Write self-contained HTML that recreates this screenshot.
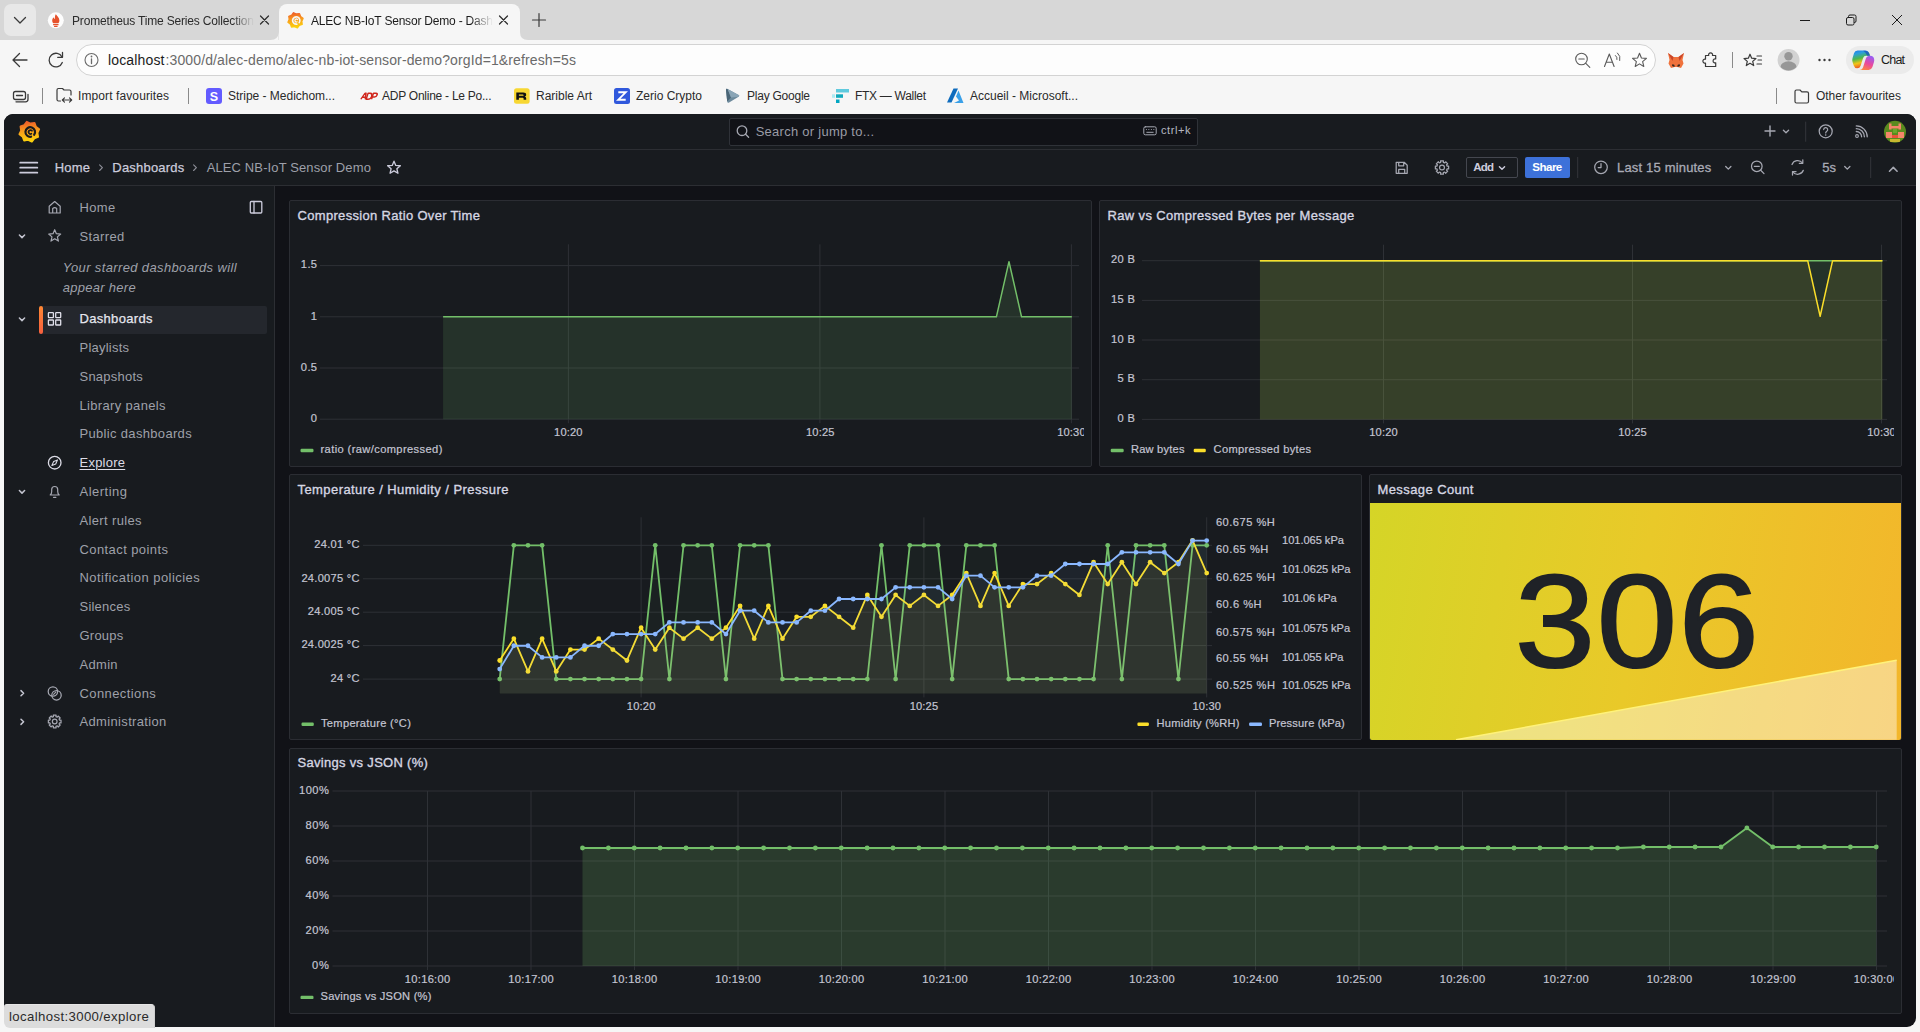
<!DOCTYPE html>
<html><head><meta charset="utf-8"><title>ALEC NB-IoT Sensor Demo - Dashboards - Grafana</title>
<style>
html,body{margin:0;padding:0;}
body{width:1920px;height:1032px;position:relative;overflow:hidden;background:#f6f6f6;font-family:"Liberation Sans",sans-serif;}
.t{position:absolute;white-space:nowrap;display:block;}
.b{position:absolute;box-sizing:border-box;}
svg.g{position:absolute;left:0;top:0;width:1920px;height:1032px;overflow:hidden;}
</style></head><body>
<div class="b" style="left:0.00px;top:0.00px;width:1920.00px;height:40.00px;background:#d7d7d7;"></div>
<div class="b" style="left:4.00px;top:4.00px;width:32.00px;height:32.00px;background:#e8e8e8;border-radius:7px;"></div>
<div class="b" style="left:278.50px;top:4.00px;width:241.50px;height:36.00px;background:#f6f6f6;border-radius:8px 8px 0 0;"></div>
<div class="b" style="left:0.00px;top:40.00px;width:1920.00px;height:74.00px;background:#f6f6f6;"></div>
<div class="b" style="left:76.00px;top:44.00px;width:1580.00px;height:32.00px;background:#fdfdfd;border:1px solid #d3d3d3;border-radius:16px;"></div>
<div class="b" style="left:1846.00px;top:45.50px;width:67.50px;height:28.00px;background:#ebebeb;border-radius:14px;"></div>
<span class="t" style="left:72.00px;top:12px;font-size:12.00px;line-height:18px;color:#2b2b2b;letter-spacing:-0.169px;-webkit-mask-image:linear-gradient(90deg,#000 88%,transparent 100%);">Prometheus Time Series Collection</span>
<span class="t" style="left:311.00px;top:12px;font-size:12.00px;line-height:18px;color:#1b1b1b;letter-spacing:-0.202px;-webkit-mask-image:linear-gradient(90deg,#000 88%,transparent 100%);">ALEC NB-IoT Sensor Demo - Dash</span>
<span class="t" style="left:108.00px;top:50px;font-size:14.00px;line-height:20px;color:#1b1b1b;letter-spacing:0.156px;">localhost</span>
<span class="t" style="left:165.50px;top:50px;font-size:14.00px;line-height:20px;color:#6a6a6a;letter-spacing:0.125px;">:3000/d/alec-demo/alec-nb-iot-sensor-demo?orgId=1&amp;refresh=5s</span>
<span class="t" style="left:1881.00px;top:51px;font-size:12.50px;line-height:18px;color:#1b1b1b;letter-spacing:-0.801px;">Chat</span>
<span class="t" style="left:78.00px;top:87px;font-size:12.00px;line-height:18px;color:#2a2a2a;letter-spacing:0.102px;">Import favourites</span>
<span class="t" style="left:228.00px;top:87px;font-size:12.00px;line-height:18px;color:#2a2a2a;letter-spacing:-0.019px;">Stripe - Medichom...</span>
<span class="t" style="left:382.00px;top:87px;font-size:12.00px;line-height:18px;color:#2a2a2a;letter-spacing:-0.250px;">ADP Online - Le Po...</span>
<span class="t" style="left:536.00px;top:87px;font-size:12.00px;line-height:18px;color:#2a2a2a;">Rarible Art</span>
<span class="t" style="left:636.00px;top:87px;font-size:12.00px;line-height:18px;color:#2a2a2a;">Zerio Crypto</span>
<span class="t" style="left:747.00px;top:87px;font-size:12.00px;line-height:18px;color:#2a2a2a;letter-spacing:-0.237px;">Play Google</span>
<span class="t" style="left:855.00px;top:87px;font-size:12.00px;line-height:18px;color:#2a2a2a;letter-spacing:-0.293px;">FTX — Wallet</span>
<span class="t" style="left:970.00px;top:87px;font-size:12.00px;line-height:18px;color:#2a2a2a;">Accueil - Microsoft...</span>
<span class="t" style="left:1816.00px;top:87px;font-size:12.00px;line-height:18px;color:#2a2a2a;letter-spacing:-0.025px;">Other favourites</span>
<span class="t" style="left:209.83px;top:88px;font-size:12.50px;line-height:18px;color:#fff;font-weight:700;">S</span>
<svg class="g" viewBox="0 0 1920 1032"><path d="M270.5 40 Q278.5 40 278.5 32 L278.5 40Z M528 40 Q520 40 520 32 L520 40Z" fill="#f6f6f6"/><path d="M42.5 88 V104" stroke="#8a8a8a" stroke-width="1"/><path d="M188.5 88 V104" stroke="#8a8a8a" stroke-width="1"/><path d="M1776.5 88 V104" stroke="#8a8a8a" stroke-width="1"/><path d="M1732.5 52 V68" stroke="#8a8a8a" stroke-width="1"/><path d="M14.5 17.5 L20 23 L25.5 17.5" fill="none" stroke="#3a3a3a" stroke-width="1.3" stroke-linecap="round" stroke-linejoin="round"/><circle cx="55.8" cy="20.3" r="8" fill="#fdfdfd"/><path d="M55.8 14.2c1.2 1.8 3.6 3.2 3.6 6.2 0 1.2-.5 2.2-1.2 2.9h-4.8c-.7-.7-1.2-1.700-1.200-2.900 0-1.400 .8-2.300 1.500-3.100 .2 1.100 .8 1.600 1.300 1.800 -.3-1.700 0-3.500 .8-4.900z" fill="#e6522c"/><rect x="53" y="24" width="5.6" height="1.3" rx=".5" fill="#e6522c"/><rect x="54" y="25.8" width="3.6" height="1.2" rx=".5" fill="#e6522c"/><path d="M260.5 16 l8 8 m0 -8 l-8 8" stroke="#2b2b2b" stroke-width="1.2" stroke-linecap="round"/><path d="M499.5 16 l8 8 m0 -8 l-8 8" stroke="#2b2b2b" stroke-width="1.2" stroke-linecap="round"/><path d="M532.5 20 h13 M539 13.5 v13" stroke="#3a3a3a" stroke-width="1.2" stroke-linecap="round"/><path d="M1800 20.5 h10" stroke="#1b1b1b" stroke-width="1"/><rect x="1846.5" y="17.5" width="7.5" height="7.5" rx="1.5" fill="none" stroke="#1b1b1b" stroke-width="1"/><path d="M1848.5 17.5 v-1 q0-1.500 1.500-1.500 h4.5 q1.500 0 1.500 1.500 v4.500 q0 1.500-1.500 1.500 h-0.500" fill="none" stroke="#1b1b1b" stroke-width="1"/><path d="M1892 15 l10 10 m0 -10 l-10 10" stroke="#1b1b1b" stroke-width="1"/><defs><linearGradient id="gl295" x1="0.2" y1="1" x2="0.1" y2="0"><stop offset="0" stop-color="#fcd20c"/><stop offset=".55" stop-color="#f89a1c"/><stop offset="1" stop-color="#ee5a2a"/></linearGradient></defs><polygon points="293.59,12.80 296.39,14.09 299.45,13.64 300.53,16.54 303.00,18.39 301.71,21.19 302.16,24.25 299.26,25.33 297.41,27.80 294.61,26.51 291.55,26.96 290.47,24.06 288.00,22.21 289.29,19.41 288.84,16.35 291.74,15.27" fill="url(#gl295)" stroke="url(#gl295)" stroke-width="1.46" stroke-linejoin="round"/><path d="M296.86 24.11 A3.65 3.65 0 1 1 299.22 22.61" fill="none" stroke="#f6f6f6" stroke-width="1.68" stroke-linecap="round"/><path d="M297.54 19.64 a1.46 1.46 0 1 0 -0.44 2.19" fill="none" stroke="#f6f6f6" stroke-width="1.24" stroke-linecap="round"/><path d="M27 60 H13.5 M19.500 53.500 L13 60 L19.500 66.500" fill="none" stroke="#3a3a3a" stroke-width="1.3" stroke-linecap="round" stroke-linejoin="round"/><path d="M62 57 A6.8 6.8 0 1 0 62.3 62.500" fill="none" stroke="#3a3a3a" stroke-width="1.3" stroke-linecap="round"/><path d="M62.500 52.500 V57.300 H57.700" fill="none" stroke="#3a3a3a" stroke-width="1.3" stroke-linecap="round" stroke-linejoin="round"/><circle cx="91.5" cy="60" r="6.5" fill="none" stroke="#6a6a6a" stroke-width="1.1"/><path d="M91.500 59 v4.500" stroke="#6a6a6a" stroke-width="1.3" stroke-linecap="round"/><circle cx="91.500" cy="56.500" r=".9" fill="#6a6a6a"/><circle cx="1581.5" cy="59" r="5.8" fill="none" stroke="#5a5a5a" stroke-width="1.1"/><path d="M1585.800 63.300 l4 4 M1578.800 59 h5.400" stroke="#5a5a5a" stroke-width="1.1" stroke-linecap="round"/><path d="M1604.500 66.500 l4.800-12.500 l4.800 12.500 M1606.300 62.300 h6" fill="none" stroke="#5a5a5a" stroke-width="1.1" stroke-linecap="round" stroke-linejoin="round"/><path d="M1615.500 55.500 q2 1.500 1.500 4 M1617.500 53 q3.500 3 2.300 7.500" fill="none" stroke="#5a5a5a" stroke-width="1" stroke-linecap="round"/><polygon points="1639.50,53.28 1641.43,57.93 1646.44,58.33 1642.62,61.60 1643.79,66.49 1639.50,63.87 1635.21,66.49 1636.38,61.60 1632.56,58.33 1637.57,57.93" fill="none" stroke="#5a5a5a" stroke-width="1.10" stroke-linejoin="round"/><path d="M1668 53 l5.500 4 h5 l5.500-4 l-1.500 7 l1 3.500 l-2.500 4.500 l-3.500-1 h-3 l-3.500 1 l-2.500-4.500 l1-3.500z" fill="#f0723c"/><path d="M1668 53 l5.500 4 l-1 4z M1684 53 l-5.500 4 l1 4z" fill="#c8452a"/><path d="M1672.500 64 l2 1 v2 l-2.500-1z M1679.500 64 l-2 1 v2 l2.500-1z" fill="#3a2a20"/><path d="M1705.500 55.500 h3.200 a2 2 0 1 1 3.800 0 h3.200 v3.500 a2 2 0 1 0 0 3.800 v3.700 h-10.200 v-3.500 a2 2 0 1 1 0-3.800z" fill="none" stroke="#3a3a3a" stroke-width="1.2" stroke-linejoin="round"/><polygon points="1750.00,54.20 1751.67,58.21 1755.99,58.56 1752.70,61.38 1753.70,65.60 1750.00,63.34 1746.30,65.60 1747.30,61.38 1744.01,58.56 1748.33,58.21" fill="none" stroke="#3a3a3a" stroke-width="1.20" stroke-linejoin="round"/><path d="M1757 56 h4.500 M1758 60 h3.500 M1757 64 h4.500" stroke="#3a3a3a" stroke-width="1.200" stroke-linecap="round"/><circle cx="1788.5" cy="60" r="11" fill="#d2d2d2"/><circle cx="1788.5" cy="56.300" r="4.200" fill="#979797"/><path d="M1780.500 67 a8 5.800 0 0 1 16 0 a11 11 0 0 1-16 0z" fill="#979797"/><circle cx="1819.5" cy="60" r="1.2" fill="#3a3a3a"/><circle cx="1824.5" cy="60" r="1.2" fill="#3a3a3a"/><circle cx="1829.5" cy="60" r="1.2" fill="#3a3a3a"/><defs><linearGradient id="cpl" x1="0" y1="0" x2="0.25" y2="1"><stop offset="0" stop-color="#1e7ae8"/><stop offset=".22" stop-color="#2a9de0"/><stop offset=".5" stop-color="#4cb84c"/><stop offset=".75" stop-color="#f2c416"/><stop offset="1" stop-color="#ee5a24"/></linearGradient><linearGradient id="cpr" x1="0.6" y1="0" x2="0.2" y2="1"><stop offset="0" stop-color="#9a5cf0"/><stop offset=".5" stop-color="#ea489c"/><stop offset="1" stop-color="#ff8a3a"/></linearGradient></defs><g transform="translate(1852.1 49.8)"><path d="M4.500 .8 h8.500 q3.200 0 4.200 3 l.7 2.200 h-3.900 q-2.300 0-3 2.200 l-2.500 7.800 q-.8 2.500-3.400 2.500 q-2.600 0-3.500-2.800 l-1.200-3.700 q-.5-1.800 0-3.600 l1.500-4.900 q.8-2.700 3.600-2.700z" fill="url(#cpl)"/><path d="M18.300 6 q2.800 0 3.600 2.800 q.5 1.700 0 3.300 l-1.600 5.200 q-.9 2.800-3.700 2.800 h-8.800 q2.400-.1 3.100-2.400 l2.700-8.500 q1-3.200 4.700-3.200z" fill="url(#cpr)"/><path d="M11 1 h2 q3.200 0 4.200 3 l.7 2 h-3 q-1.200-3.800-3.900-5z" fill="#1a4fc0" fill-opacity=".75"/></g><rect x="13.500" y="91.500" width="12" height="8" rx="2" fill="none" stroke="#3a3a3a" stroke-width="1.300"/><path d="M16 101.800 h9.500 q2.500 0 2.500-2.500 v-5" fill="none" stroke="#3a3a3a" stroke-width="1.300" stroke-linecap="round"/><path d="M16.500 95.500 h6" stroke="#3a3a3a" stroke-width="1.300" stroke-linecap="round"/><path d="M71 95 v-3.500 q0-1.500-1.500-1.500 h-5.500 l-1.500-1.500 h-4 q-1.500 0-1.500 1.500 v9.500 q0 1.500 1.500 1.500 h2" fill="none" stroke="#3a3a3a" stroke-width="1.200" stroke-linecap="round" stroke-linejoin="round"/><path d="M62.500 100 h9 M69.500 97.800 l2.200 2.200 l-2.200 2.200 M64.500 97.800 l-2.200 2.200 l2.200 2.200" fill="none" stroke="#3a3a3a" stroke-width="1.100" stroke-linecap="round" stroke-linejoin="round"/><rect x="206" y="88" width="16" height="16" rx="3" fill="#635bff"/><g transform="translate(360 92.6) skewX(-18)" fill="none" stroke="#d0271d" stroke-width="1.5" stroke-linejoin="round"><path d="M3 6.600 l2.200-6 h1 l1.300 6 M3.800 4.600 h3"/><path d="M8.300 .7 h2 q2.600 0 2.600 2.900 q0 3-2.600 3 h-2z"/><path d="M13.700 6.600 v-5.900 h2.300 q1.900 0 1.900 1.800 q0 1.800-1.900 1.800 h-2.300"/></g><rect x="514" y="88.300" width="15.600" height="15.400" rx="2.500" fill="#f7d733"/><path d="M516.300 99.800 v-7.200 h7 q2.900 0 2.900 2.300 q0 1.300-1.300 1.700 q1.300 .4 1.300 1.700 v1.500 h-2.600 v-1.200 q0-.8-.9-.8 h-3.800 v2z M518.900 94.500 v1.300 h3.900 q.8 0 .8-.65 q0-.65-.8-.65z" fill="#111" fill-rule="evenodd"/><rect x="614" y="88" width="16" height="16" rx="2.500" fill="#3058dc"/><path d="M618.300 92.300 h7.400 l-7.400 7.400 h7.400" fill="none" stroke="#fff" stroke-width="1.900" stroke-linejoin="miter" stroke-linecap="butt"/><path d="M726 90 q0-1.800 1.600-.9 l11 6 q1.400 .8 0 1.600 l-9.500 5.800 q-1.600 .9-1.900-.9z" fill="#6d8a9c"/><path d="M726 90 q0-1.800 1.600-.9 l3.400 8.400 l-3.800 4.100z" fill="#4a6576"/><path d="M727.600 89.100 l11 6 q1.400 .8 0 1.600 l-7.600 .8z" fill="#8aa5b6"/><rect x="836" y="89" width="13" height="3.500" fill="#5fcade"/><rect x="836" y="94.300" width="7" height="3.500" fill="#11a9bc"/><rect x="832" y="94.300" width="3" height="3.500" fill="#aeeaf2"/><rect x="836" y="99.500" width="3.500" height="3.500" fill="#02a6c2"/><path d="M953.500 88.500 h4.500 l-6.500 14 h-4.500z" fill="#0f6cbd"/><path d="M958.500 90.500 l5 12.500 h-9.500 l5-2.500 l-3-4z" fill="#3aa0e8"/><path d="M1795 101.500 v-10 q0-1.500 1.500-1.500 h3.500 l1.800 1.800 h5.200 q1.500 0 1.500 1.500 v8.200 q0 1.500-1.500 1.500 h-10.500 q-1.500 0-1.500-1.500z" fill="none" stroke="#3a3a3a" stroke-width="1.200" stroke-linejoin="round"/></svg>
<span class="t" style="left:209.83px;top:88px;font-size:12.50px;line-height:18px;color:#fff;font-weight:700;">S</span>
<div class="b" style="left:4px;top:114px;width:1911.5px;height:913px;background:#111217;border-radius:9px;overflow:hidden;">
<div class="b" style="left:0;top:0;width:1912px;height:72px;background:#181b1f;"></div>
<div class="b" style="left:0;top:35px;width:1912px;height:1px;background:#2c2e33;"></div>
<div class="b" style="left:0;top:71px;width:1912px;height:1px;background:#2c2e33;"></div>
<div class="b" style="left:0;top:72px;width:271px;height:842px;background:#181b1f;border-right:1px solid #2c2e33;"></div>
</div>
<div class="b" style="left:729.00px;top:117.50px;width:469.00px;height:28.00px;background:#111217;border:1px solid #2f3238;border-radius:2px;"></div>
<div class="b" style="left:1466.00px;top:157.00px;width:52.00px;height:21.00px;border:1px solid #44474f;border-radius:2px;"></div>
<div class="b" style="left:1525.00px;top:157.00px;width:45.00px;height:21.00px;background:#3d71d9;border-radius:2px;"></div>
<div class="b" style="left:40.00px;top:305.50px;width:227.00px;height:28.00px;background:#24272d;border-radius:2px;"></div>
<div class="b" style="left:38.50px;top:305.50px;width:4.00px;height:28.00px;background:linear-gradient(0deg,#f55f3e,#ff8833);border-radius:2px;"></div>
<div class="b" style="left:289.30px;top:200.40px;width:802.75px;height:266.40px;background:#181b1f;border:1px solid #2b2d33;border-radius:2px;"></div>
<div class="b" style="left:1099.25px;top:200.40px;width:802.75px;height:266.40px;background:#181b1f;border:1px solid #2b2d33;border-radius:2px;"></div>
<div class="b" style="left:289.30px;top:474.00px;width:1072.73px;height:266.40px;background:#181b1f;border:1px solid #2b2d33;border-radius:2px;"></div>
<div class="b" style="left:1369.23px;top:474.00px;width:532.77px;height:266.40px;background:#181b1f;border:1px solid #2b2d33;border-radius:2px;"></div>
<div class="b" style="left:289.30px;top:747.60px;width:1612.70px;height:266.40px;background:#181b1f;border:1px solid #2b2d33;border-radius:2px;"></div>
<div class="b" style="left:1370.0px;top:503.0px;width:531.0px;height:236.8px;background:linear-gradient(100deg,#d5d527 0%,#e9c929 50%,#f3b62b 100%);border-radius:0 0 2px 2px;overflow:hidden;">
<svg style="position:absolute;left:0;top:0" width="531.0" height="236.8" viewBox="0 0 531.0 236.8"><path d="M86 236.8 L526.7 157.2 L526.7 236.8 Z" fill="#ffffff" fill-opacity="0.42"/><path d="M86 236.8 L526.7 157.2" stroke="#fff27a" stroke-width="1.5" fill="none"/></svg>
</div>
<svg class="g" viewBox="0 0 1920 1032"><path d="M320.0 419.2 H1079.0" stroke="#2e3136" stroke-width="1"/><path d="M320.0 368.0 H1079.0" stroke="#2e3136" stroke-width="1"/><path d="M320.0 316.8 H1079.0" stroke="#2e3136" stroke-width="1"/><path d="M320.0 265.6 H1079.0" stroke="#2e3136" stroke-width="1"/><path d="M568.4 244.3 V423.2" stroke="#2e3136" stroke-width="1"/><path d="M819.9 244.3 V423.2" stroke="#2e3136" stroke-width="1"/><path d="M1071.4 244.3 V423.2" stroke="#2e3136" stroke-width="1"/><path d="M443.10 316.80 L996.40 316.80 L1008.98 261.66 L1021.55 316.80 L1071.85 316.80 L1071.85 419.20 L443.10 419.20 Z" fill="#73bf69" fill-opacity="0.150" stroke="none"/><path d="M443.10 316.80 L996.40 316.80 L1008.98 261.66 L1021.55 316.80 L1071.85 316.80" fill="none" stroke="#73bf69" stroke-width="1.50" stroke-linejoin="round" stroke-linecap="butt"/><rect x="300.5" y="448.8" width="13.0" height="3.4" rx="1.2" fill="#73bf69"/><path d="M1142.0 419.4 H1887.0" stroke="#2e3136" stroke-width="1"/><path d="M1142.0 379.7 H1887.0" stroke="#2e3136" stroke-width="1"/><path d="M1142.0 340.0 H1887.0" stroke="#2e3136" stroke-width="1"/><path d="M1142.0 300.4 H1887.0" stroke="#2e3136" stroke-width="1"/><path d="M1142.0 260.7 H1887.0" stroke="#2e3136" stroke-width="1"/><path d="M1383.5 244.7 V423.4" stroke="#2e3136" stroke-width="1"/><path d="M1632.5 244.7 V423.4" stroke="#2e3136" stroke-width="1"/><path d="M1881.5 244.7 V423.4" stroke="#2e3136" stroke-width="1"/><path d="M1259.90 260.70 L1882.40 260.70 L1882.40 419.40 L1259.90 419.40 Z" fill="#73bf69" fill-opacity="0.140" stroke="none"/><path d="M1259.90 260.70 L1882.40 260.70" fill="none" stroke="#73bf69" stroke-width="1.50" stroke-linejoin="round" stroke-linecap="butt"/><path d="M1259.90 260.70 L1807.70 260.70 L1820.15 316.25 L1832.60 260.70 L1882.40 260.70 L1882.40 419.40 L1259.90 419.40 Z" fill="#fade2a" fill-opacity="0.085" stroke="none"/><path d="M1259.90 260.70 L1807.70 260.70 L1820.15 316.25 L1832.60 260.70 L1882.40 260.70" fill="none" stroke="#fade2a" stroke-width="1.50" stroke-linejoin="round" stroke-linecap="butt"/><rect x="1110.7" y="448.8" width="13.0" height="3.4" rx="1.2" fill="#73bf69"/><rect x="1193.7" y="448.8" width="12.1" height="3.4" rx="1.2" fill="#fade2a"/><path d="M363.0 679.1 H1212.0" stroke="#2e3136" stroke-width="1"/><path d="M363.0 645.6 H1212.0" stroke="#2e3136" stroke-width="1"/><path d="M363.0 612.2 H1212.0" stroke="#2e3136" stroke-width="1"/><path d="M363.0 578.8 H1212.0" stroke="#2e3136" stroke-width="1"/><path d="M363.0 545.3 H1212.0" stroke="#2e3136" stroke-width="1"/><path d="M641.1 517.3 V697.4" stroke="#2e3136" stroke-width="1"/><path d="M923.9 517.3 V697.4" stroke="#2e3136" stroke-width="1"/><path d="M1206.7 517.3 V697.4" stroke="#2e3136" stroke-width="1"/><path d="M499.70 679.10 L513.84 545.30 L527.98 545.30 L542.12 545.30 L556.26 679.10 L570.40 679.10 L584.54 679.10 L598.68 679.10 L612.82 679.10 L626.96 679.10 L641.10 679.10 L655.24 545.30 L669.38 679.10 L683.52 545.30 L697.66 545.30 L711.80 545.30 L725.94 679.10 L740.08 545.30 L754.22 545.30 L768.36 545.30 L782.50 679.10 L796.64 679.10 L810.78 679.10 L824.92 679.10 L839.06 679.10 L853.20 679.10 L867.34 679.10 L881.48 545.30 L895.62 679.10 L909.76 545.30 L923.90 545.30 L938.04 545.30 L952.18 679.10 L966.32 545.30 L980.46 545.30 L994.60 545.30 L1008.74 679.10 L1022.88 679.10 L1037.02 679.10 L1051.16 679.10 L1065.30 679.10 L1079.44 679.10 L1093.58 679.10 L1107.72 545.30 L1121.86 679.10 L1136.00 545.30 L1150.14 545.30 L1164.28 545.30 L1178.42 679.10 L1192.56 545.30 L1206.70 545.30 L1206.70 693.40 L499.70 693.40 Z" fill="#73bf69" fill-opacity="0.045" stroke="none"/><path d="M499.70 679.10 L513.84 545.30 L527.98 545.30 L542.12 545.30 L556.26 679.10 L570.40 679.10 L584.54 679.10 L598.68 679.10 L612.82 679.10 L626.96 679.10 L641.10 679.10 L655.24 545.30 L669.38 679.10 L683.52 545.30 L697.66 545.30 L711.80 545.30 L725.94 679.10 L740.08 545.30 L754.22 545.30 L768.36 545.30 L782.50 679.10 L796.64 679.10 L810.78 679.10 L824.92 679.10 L839.06 679.10 L853.20 679.10 L867.34 679.10 L881.48 545.30 L895.62 679.10 L909.76 545.30 L923.90 545.30 L938.04 545.30 L952.18 679.10 L966.32 545.30 L980.46 545.30 L994.60 545.30 L1008.74 679.10 L1022.88 679.10 L1037.02 679.10 L1051.16 679.10 L1065.30 679.10 L1079.44 679.10 L1093.58 679.10 L1107.72 545.30 L1121.86 679.10 L1136.00 545.30 L1150.14 545.30 L1164.28 545.30 L1178.42 679.10 L1192.56 545.30 L1206.70 545.30" fill="none" stroke="#73bf69" stroke-width="1.80" stroke-linejoin="round" stroke-linecap="round"/><circle cx="499.70" cy="679.10" r="2.40" fill="#73bf69"/><circle cx="513.84" cy="545.30" r="2.40" fill="#73bf69"/><circle cx="527.98" cy="545.30" r="2.40" fill="#73bf69"/><circle cx="542.12" cy="545.30" r="2.40" fill="#73bf69"/><circle cx="556.26" cy="679.10" r="2.40" fill="#73bf69"/><circle cx="570.40" cy="679.10" r="2.40" fill="#73bf69"/><circle cx="584.54" cy="679.10" r="2.40" fill="#73bf69"/><circle cx="598.68" cy="679.10" r="2.40" fill="#73bf69"/><circle cx="612.82" cy="679.10" r="2.40" fill="#73bf69"/><circle cx="626.96" cy="679.10" r="2.40" fill="#73bf69"/><circle cx="641.10" cy="679.10" r="2.40" fill="#73bf69"/><circle cx="655.24" cy="545.30" r="2.40" fill="#73bf69"/><circle cx="669.38" cy="679.10" r="2.40" fill="#73bf69"/><circle cx="683.52" cy="545.30" r="2.40" fill="#73bf69"/><circle cx="697.66" cy="545.30" r="2.40" fill="#73bf69"/><circle cx="711.80" cy="545.30" r="2.40" fill="#73bf69"/><circle cx="725.94" cy="679.10" r="2.40" fill="#73bf69"/><circle cx="740.08" cy="545.30" r="2.40" fill="#73bf69"/><circle cx="754.22" cy="545.30" r="2.40" fill="#73bf69"/><circle cx="768.36" cy="545.30" r="2.40" fill="#73bf69"/><circle cx="782.50" cy="679.10" r="2.40" fill="#73bf69"/><circle cx="796.64" cy="679.10" r="2.40" fill="#73bf69"/><circle cx="810.78" cy="679.10" r="2.40" fill="#73bf69"/><circle cx="824.92" cy="679.10" r="2.40" fill="#73bf69"/><circle cx="839.06" cy="679.10" r="2.40" fill="#73bf69"/><circle cx="853.20" cy="679.10" r="2.40" fill="#73bf69"/><circle cx="867.34" cy="679.10" r="2.40" fill="#73bf69"/><circle cx="881.48" cy="545.30" r="2.40" fill="#73bf69"/><circle cx="895.62" cy="679.10" r="2.40" fill="#73bf69"/><circle cx="909.76" cy="545.30" r="2.40" fill="#73bf69"/><circle cx="923.90" cy="545.30" r="2.40" fill="#73bf69"/><circle cx="938.04" cy="545.30" r="2.40" fill="#73bf69"/><circle cx="952.18" cy="679.10" r="2.40" fill="#73bf69"/><circle cx="966.32" cy="545.30" r="2.40" fill="#73bf69"/><circle cx="980.46" cy="545.30" r="2.40" fill="#73bf69"/><circle cx="994.60" cy="545.30" r="2.40" fill="#73bf69"/><circle cx="1008.74" cy="679.10" r="2.40" fill="#73bf69"/><circle cx="1022.88" cy="679.10" r="2.40" fill="#73bf69"/><circle cx="1037.02" cy="679.10" r="2.40" fill="#73bf69"/><circle cx="1051.16" cy="679.10" r="2.40" fill="#73bf69"/><circle cx="1065.30" cy="679.10" r="2.40" fill="#73bf69"/><circle cx="1079.44" cy="679.10" r="2.40" fill="#73bf69"/><circle cx="1093.58" cy="679.10" r="2.40" fill="#73bf69"/><circle cx="1107.72" cy="545.30" r="2.40" fill="#73bf69"/><circle cx="1121.86" cy="679.10" r="2.40" fill="#73bf69"/><circle cx="1136.00" cy="545.30" r="2.40" fill="#73bf69"/><circle cx="1150.14" cy="545.30" r="2.40" fill="#73bf69"/><circle cx="1164.28" cy="545.30" r="2.40" fill="#73bf69"/><circle cx="1178.42" cy="679.10" r="2.40" fill="#73bf69"/><circle cx="1192.56" cy="545.30" r="2.40" fill="#73bf69"/><circle cx="1206.70" cy="545.30" r="2.40" fill="#73bf69"/><path d="M499.70 660.48 L513.84 638.64 L527.98 671.40 L542.12 638.64 L556.26 671.40 L570.40 649.56 L584.54 649.56 L598.68 638.64 L612.82 649.56 L626.96 660.48 L641.10 627.72 L655.24 649.56 L669.38 627.72 L683.52 638.64 L697.66 627.72 L711.80 638.64 L725.94 627.72 L740.08 605.88 L754.22 638.64 L768.36 605.88 L782.50 638.64 L796.64 616.80 L810.78 616.80 L824.92 605.88 L839.06 616.80 L853.20 627.72 L867.34 594.96 L881.48 616.80 L895.62 594.96 L909.76 605.88 L923.90 594.96 L938.04 605.88 L952.18 594.96 L966.32 573.12 L980.46 605.88 L994.60 573.12 L1008.74 605.88 L1022.88 584.04 L1037.02 584.04 L1051.16 573.12 L1065.30 584.04 L1079.44 594.96 L1093.58 562.20 L1107.72 584.04 L1121.86 562.20 L1136.00 584.04 L1150.14 562.20 L1164.28 573.12 L1178.42 562.20 L1192.56 540.36 L1206.70 573.12 L1206.70 693.40 L499.70 693.40 Z" fill="#fade2a" fill-opacity="0.065" stroke="none"/><path d="M499.70 660.48 L513.84 638.64 L527.98 671.40 L542.12 638.64 L556.26 671.40 L570.40 649.56 L584.54 649.56 L598.68 638.64 L612.82 649.56 L626.96 660.48 L641.10 627.72 L655.24 649.56 L669.38 627.72 L683.52 638.64 L697.66 627.72 L711.80 638.64 L725.94 627.72 L740.08 605.88 L754.22 638.64 L768.36 605.88 L782.50 638.64 L796.64 616.80 L810.78 616.80 L824.92 605.88 L839.06 616.80 L853.20 627.72 L867.34 594.96 L881.48 616.80 L895.62 594.96 L909.76 605.88 L923.90 594.96 L938.04 605.88 L952.18 594.96 L966.32 573.12 L980.46 605.88 L994.60 573.12 L1008.74 605.88 L1022.88 584.04 L1037.02 584.04 L1051.16 573.12 L1065.30 584.04 L1079.44 594.96 L1093.58 562.20 L1107.72 584.04 L1121.86 562.20 L1136.00 584.04 L1150.14 562.20 L1164.28 573.12 L1178.42 562.20 L1192.56 540.36 L1206.70 573.12" fill="none" stroke="#fade2a" stroke-width="1.80" stroke-linejoin="round" stroke-linecap="round"/><circle cx="499.70" cy="660.48" r="2.40" fill="#fade2a"/><circle cx="513.84" cy="638.64" r="2.40" fill="#fade2a"/><circle cx="527.98" cy="671.40" r="2.40" fill="#fade2a"/><circle cx="542.12" cy="638.64" r="2.40" fill="#fade2a"/><circle cx="556.26" cy="671.40" r="2.40" fill="#fade2a"/><circle cx="570.40" cy="649.56" r="2.40" fill="#fade2a"/><circle cx="584.54" cy="649.56" r="2.40" fill="#fade2a"/><circle cx="598.68" cy="638.64" r="2.40" fill="#fade2a"/><circle cx="612.82" cy="649.56" r="2.40" fill="#fade2a"/><circle cx="626.96" cy="660.48" r="2.40" fill="#fade2a"/><circle cx="641.10" cy="627.72" r="2.40" fill="#fade2a"/><circle cx="655.24" cy="649.56" r="2.40" fill="#fade2a"/><circle cx="669.38" cy="627.72" r="2.40" fill="#fade2a"/><circle cx="683.52" cy="638.64" r="2.40" fill="#fade2a"/><circle cx="697.66" cy="627.72" r="2.40" fill="#fade2a"/><circle cx="711.80" cy="638.64" r="2.40" fill="#fade2a"/><circle cx="725.94" cy="627.72" r="2.40" fill="#fade2a"/><circle cx="740.08" cy="605.88" r="2.40" fill="#fade2a"/><circle cx="754.22" cy="638.64" r="2.40" fill="#fade2a"/><circle cx="768.36" cy="605.88" r="2.40" fill="#fade2a"/><circle cx="782.50" cy="638.64" r="2.40" fill="#fade2a"/><circle cx="796.64" cy="616.80" r="2.40" fill="#fade2a"/><circle cx="810.78" cy="616.80" r="2.40" fill="#fade2a"/><circle cx="824.92" cy="605.88" r="2.40" fill="#fade2a"/><circle cx="839.06" cy="616.80" r="2.40" fill="#fade2a"/><circle cx="853.20" cy="627.72" r="2.40" fill="#fade2a"/><circle cx="867.34" cy="594.96" r="2.40" fill="#fade2a"/><circle cx="881.48" cy="616.80" r="2.40" fill="#fade2a"/><circle cx="895.62" cy="594.96" r="2.40" fill="#fade2a"/><circle cx="909.76" cy="605.88" r="2.40" fill="#fade2a"/><circle cx="923.90" cy="594.96" r="2.40" fill="#fade2a"/><circle cx="938.04" cy="605.88" r="2.40" fill="#fade2a"/><circle cx="952.18" cy="594.96" r="2.40" fill="#fade2a"/><circle cx="966.32" cy="573.12" r="2.40" fill="#fade2a"/><circle cx="980.46" cy="605.88" r="2.40" fill="#fade2a"/><circle cx="994.60" cy="573.12" r="2.40" fill="#fade2a"/><circle cx="1008.74" cy="605.88" r="2.40" fill="#fade2a"/><circle cx="1022.88" cy="584.04" r="2.40" fill="#fade2a"/><circle cx="1037.02" cy="584.04" r="2.40" fill="#fade2a"/><circle cx="1051.16" cy="573.12" r="2.40" fill="#fade2a"/><circle cx="1065.30" cy="584.04" r="2.40" fill="#fade2a"/><circle cx="1079.44" cy="594.96" r="2.40" fill="#fade2a"/><circle cx="1093.58" cy="562.20" r="2.40" fill="#fade2a"/><circle cx="1107.72" cy="584.04" r="2.40" fill="#fade2a"/><circle cx="1121.86" cy="562.20" r="2.40" fill="#fade2a"/><circle cx="1136.00" cy="584.04" r="2.40" fill="#fade2a"/><circle cx="1150.14" cy="562.20" r="2.40" fill="#fade2a"/><circle cx="1164.28" cy="573.12" r="2.40" fill="#fade2a"/><circle cx="1178.42" cy="562.20" r="2.40" fill="#fade2a"/><circle cx="1192.56" cy="540.36" r="2.40" fill="#fade2a"/><circle cx="1206.70" cy="573.12" r="2.40" fill="#fade2a"/><path d="M499.70 669.10 L513.84 645.74 L527.98 645.74 L542.12 657.42 L556.26 657.42 L570.40 657.42 L584.54 645.74 L598.68 645.74 L612.82 634.06 L626.96 634.06 L641.10 634.06 L655.24 634.06 L669.38 622.38 L683.52 622.38 L697.66 622.38 L711.80 622.38 L725.94 634.06 L740.08 610.70 L754.22 610.70 L768.36 622.38 L782.50 622.38 L796.64 622.38 L810.78 610.70 L824.92 610.70 L839.06 599.02 L853.20 599.02 L867.34 599.02 L881.48 599.02 L895.62 587.34 L909.76 587.34 L923.90 587.34 L938.04 587.34 L952.18 599.02 L966.32 575.66 L980.46 575.66 L994.60 587.34 L1008.74 587.34 L1022.88 587.34 L1037.02 575.66 L1051.16 575.66 L1065.30 563.98 L1079.44 563.98 L1093.58 563.98 L1107.72 563.98 L1121.86 552.30 L1136.00 552.30 L1150.14 552.30 L1164.28 552.30 L1178.42 563.98 L1192.56 540.62 L1206.70 540.62 L1206.70 693.40 L499.70 693.40 Z" fill="#8ab8ff" fill-opacity="0.060" stroke="none"/><path d="M499.70 669.10 L513.84 645.74 L527.98 645.74 L542.12 657.42 L556.26 657.42 L570.40 657.42 L584.54 645.74 L598.68 645.74 L612.82 634.06 L626.96 634.06 L641.10 634.06 L655.24 634.06 L669.38 622.38 L683.52 622.38 L697.66 622.38 L711.80 622.38 L725.94 634.06 L740.08 610.70 L754.22 610.70 L768.36 622.38 L782.50 622.38 L796.64 622.38 L810.78 610.70 L824.92 610.70 L839.06 599.02 L853.20 599.02 L867.34 599.02 L881.48 599.02 L895.62 587.34 L909.76 587.34 L923.90 587.34 L938.04 587.34 L952.18 599.02 L966.32 575.66 L980.46 575.66 L994.60 587.34 L1008.74 587.34 L1022.88 587.34 L1037.02 575.66 L1051.16 575.66 L1065.30 563.98 L1079.44 563.98 L1093.58 563.98 L1107.72 563.98 L1121.86 552.30 L1136.00 552.30 L1150.14 552.30 L1164.28 552.30 L1178.42 563.98 L1192.56 540.62 L1206.70 540.62" fill="none" stroke="#8ab8ff" stroke-width="1.80" stroke-linejoin="round" stroke-linecap="round"/><circle cx="499.70" cy="669.10" r="2.40" fill="#8ab8ff"/><circle cx="513.84" cy="645.74" r="2.40" fill="#8ab8ff"/><circle cx="527.98" cy="645.74" r="2.40" fill="#8ab8ff"/><circle cx="542.12" cy="657.42" r="2.40" fill="#8ab8ff"/><circle cx="556.26" cy="657.42" r="2.40" fill="#8ab8ff"/><circle cx="570.40" cy="657.42" r="2.40" fill="#8ab8ff"/><circle cx="584.54" cy="645.74" r="2.40" fill="#8ab8ff"/><circle cx="598.68" cy="645.74" r="2.40" fill="#8ab8ff"/><circle cx="612.82" cy="634.06" r="2.40" fill="#8ab8ff"/><circle cx="626.96" cy="634.06" r="2.40" fill="#8ab8ff"/><circle cx="641.10" cy="634.06" r="2.40" fill="#8ab8ff"/><circle cx="655.24" cy="634.06" r="2.40" fill="#8ab8ff"/><circle cx="669.38" cy="622.38" r="2.40" fill="#8ab8ff"/><circle cx="683.52" cy="622.38" r="2.40" fill="#8ab8ff"/><circle cx="697.66" cy="622.38" r="2.40" fill="#8ab8ff"/><circle cx="711.80" cy="622.38" r="2.40" fill="#8ab8ff"/><circle cx="725.94" cy="634.06" r="2.40" fill="#8ab8ff"/><circle cx="740.08" cy="610.70" r="2.40" fill="#8ab8ff"/><circle cx="754.22" cy="610.70" r="2.40" fill="#8ab8ff"/><circle cx="768.36" cy="622.38" r="2.40" fill="#8ab8ff"/><circle cx="782.50" cy="622.38" r="2.40" fill="#8ab8ff"/><circle cx="796.64" cy="622.38" r="2.40" fill="#8ab8ff"/><circle cx="810.78" cy="610.70" r="2.40" fill="#8ab8ff"/><circle cx="824.92" cy="610.70" r="2.40" fill="#8ab8ff"/><circle cx="839.06" cy="599.02" r="2.40" fill="#8ab8ff"/><circle cx="853.20" cy="599.02" r="2.40" fill="#8ab8ff"/><circle cx="867.34" cy="599.02" r="2.40" fill="#8ab8ff"/><circle cx="881.48" cy="599.02" r="2.40" fill="#8ab8ff"/><circle cx="895.62" cy="587.34" r="2.40" fill="#8ab8ff"/><circle cx="909.76" cy="587.34" r="2.40" fill="#8ab8ff"/><circle cx="923.90" cy="587.34" r="2.40" fill="#8ab8ff"/><circle cx="938.04" cy="587.34" r="2.40" fill="#8ab8ff"/><circle cx="952.18" cy="599.02" r="2.40" fill="#8ab8ff"/><circle cx="966.32" cy="575.66" r="2.40" fill="#8ab8ff"/><circle cx="980.46" cy="575.66" r="2.40" fill="#8ab8ff"/><circle cx="994.60" cy="587.34" r="2.40" fill="#8ab8ff"/><circle cx="1008.74" cy="587.34" r="2.40" fill="#8ab8ff"/><circle cx="1022.88" cy="587.34" r="2.40" fill="#8ab8ff"/><circle cx="1037.02" cy="575.66" r="2.40" fill="#8ab8ff"/><circle cx="1051.16" cy="575.66" r="2.40" fill="#8ab8ff"/><circle cx="1065.30" cy="563.98" r="2.40" fill="#8ab8ff"/><circle cx="1079.44" cy="563.98" r="2.40" fill="#8ab8ff"/><circle cx="1093.58" cy="563.98" r="2.40" fill="#8ab8ff"/><circle cx="1107.72" cy="563.98" r="2.40" fill="#8ab8ff"/><circle cx="1121.86" cy="552.30" r="2.40" fill="#8ab8ff"/><circle cx="1136.00" cy="552.30" r="2.40" fill="#8ab8ff"/><circle cx="1150.14" cy="552.30" r="2.40" fill="#8ab8ff"/><circle cx="1164.28" cy="552.30" r="2.40" fill="#8ab8ff"/><circle cx="1178.42" cy="563.98" r="2.40" fill="#8ab8ff"/><circle cx="1192.56" cy="540.62" r="2.40" fill="#8ab8ff"/><circle cx="1206.70" cy="540.62" r="2.40" fill="#8ab8ff"/><rect x="301.5" y="722.6" width="12.3" height="3.4" rx="1.2" fill="#73bf69"/><rect x="1137.4" y="722.6" width="11.5" height="3.4" rx="1.2" fill="#fade2a"/><rect x="1249.1" y="722.6" width="12.9" height="3.4" rx="1.2" fill="#8ab8ff"/><path d="M332.5 966.0 H1887.0" stroke="#2e3136" stroke-width="1"/><path d="M332.5 931.0 H1887.0" stroke="#2e3136" stroke-width="1"/><path d="M332.5 896.0 H1887.0" stroke="#2e3136" stroke-width="1"/><path d="M332.5 861.0 H1887.0" stroke="#2e3136" stroke-width="1"/><path d="M332.5 826.0 H1887.0" stroke="#2e3136" stroke-width="1"/><path d="M332.5 791.0 H1887.0" stroke="#2e3136" stroke-width="1"/><path d="M427.5 791.0 V970.0" stroke="#2e3136" stroke-width="1"/><path d="M531.0 791.0 V970.0" stroke="#2e3136" stroke-width="1"/><path d="M634.5 791.0 V970.0" stroke="#2e3136" stroke-width="1"/><path d="M738.0 791.0 V970.0" stroke="#2e3136" stroke-width="1"/><path d="M841.5 791.0 V970.0" stroke="#2e3136" stroke-width="1"/><path d="M945.0 791.0 V970.0" stroke="#2e3136" stroke-width="1"/><path d="M1048.5 791.0 V970.0" stroke="#2e3136" stroke-width="1"/><path d="M1152.0 791.0 V970.0" stroke="#2e3136" stroke-width="1"/><path d="M1255.5 791.0 V970.0" stroke="#2e3136" stroke-width="1"/><path d="M1359.0 791.0 V970.0" stroke="#2e3136" stroke-width="1"/><path d="M1462.5 791.0 V970.0" stroke="#2e3136" stroke-width="1"/><path d="M1566.0 791.0 V970.0" stroke="#2e3136" stroke-width="1"/><path d="M1669.5 791.0 V970.0" stroke="#2e3136" stroke-width="1"/><path d="M1773.0 791.0 V970.0" stroke="#2e3136" stroke-width="1"/><path d="M1876.5 791.0 V970.0" stroke="#2e3136" stroke-width="1"/><path d="M582.50 848.05 L608.38 848.05 L634.25 848.05 L660.12 848.05 L686.00 848.05 L711.88 848.05 L737.75 848.05 L763.62 848.05 L789.50 848.05 L815.38 848.05 L841.25 848.05 L867.12 848.05 L893.00 848.05 L918.88 848.05 L944.75 848.05 L970.62 848.05 L996.50 848.05 L1022.38 848.05 L1048.25 848.05 L1074.12 848.05 L1100.00 848.05 L1125.88 848.05 L1151.75 848.05 L1177.62 848.05 L1203.50 848.05 L1229.38 848.05 L1255.25 848.05 L1281.12 848.05 L1307.00 848.05 L1332.88 848.05 L1358.75 848.05 L1384.62 848.05 L1410.50 848.05 L1436.38 848.05 L1462.25 848.05 L1488.12 848.05 L1514.00 848.05 L1539.88 848.05 L1565.75 848.05 L1591.62 848.05 L1617.50 848.05 L1643.38 847.00 L1669.25 847.00 L1695.12 847.00 L1721.00 847.00 L1746.88 827.92 L1772.75 847.00 L1798.62 847.00 L1824.50 847.00 L1850.38 847.00 L1876.25 847.00 L1876.25 966.00 L582.50 966.00 Z" fill="#73bf69" fill-opacity="0.200" stroke="none"/><path d="M582.50 848.05 L608.38 848.05 L634.25 848.05 L660.12 848.05 L686.00 848.05 L711.88 848.05 L737.75 848.05 L763.62 848.05 L789.50 848.05 L815.38 848.05 L841.25 848.05 L867.12 848.05 L893.00 848.05 L918.88 848.05 L944.75 848.05 L970.62 848.05 L996.50 848.05 L1022.38 848.05 L1048.25 848.05 L1074.12 848.05 L1100.00 848.05 L1125.88 848.05 L1151.75 848.05 L1177.62 848.05 L1203.50 848.05 L1229.38 848.05 L1255.25 848.05 L1281.12 848.05 L1307.00 848.05 L1332.88 848.05 L1358.75 848.05 L1384.62 848.05 L1410.50 848.05 L1436.38 848.05 L1462.25 848.05 L1488.12 848.05 L1514.00 848.05 L1539.88 848.05 L1565.75 848.05 L1591.62 848.05 L1617.50 848.05 L1643.38 847.00 L1669.25 847.00 L1695.12 847.00 L1721.00 847.00 L1746.88 827.92 L1772.75 847.00 L1798.62 847.00 L1824.50 847.00 L1850.38 847.00 L1876.25 847.00" fill="none" stroke="#73bf69" stroke-width="1.90" stroke-linejoin="round" stroke-linecap="round"/><circle cx="582.50" cy="848.05" r="2.45" fill="#73bf69"/><circle cx="608.38" cy="848.05" r="2.45" fill="#73bf69"/><circle cx="634.25" cy="848.05" r="2.45" fill="#73bf69"/><circle cx="660.12" cy="848.05" r="2.45" fill="#73bf69"/><circle cx="686.00" cy="848.05" r="2.45" fill="#73bf69"/><circle cx="711.88" cy="848.05" r="2.45" fill="#73bf69"/><circle cx="737.75" cy="848.05" r="2.45" fill="#73bf69"/><circle cx="763.62" cy="848.05" r="2.45" fill="#73bf69"/><circle cx="789.50" cy="848.05" r="2.45" fill="#73bf69"/><circle cx="815.38" cy="848.05" r="2.45" fill="#73bf69"/><circle cx="841.25" cy="848.05" r="2.45" fill="#73bf69"/><circle cx="867.12" cy="848.05" r="2.45" fill="#73bf69"/><circle cx="893.00" cy="848.05" r="2.45" fill="#73bf69"/><circle cx="918.88" cy="848.05" r="2.45" fill="#73bf69"/><circle cx="944.75" cy="848.05" r="2.45" fill="#73bf69"/><circle cx="970.62" cy="848.05" r="2.45" fill="#73bf69"/><circle cx="996.50" cy="848.05" r="2.45" fill="#73bf69"/><circle cx="1022.38" cy="848.05" r="2.45" fill="#73bf69"/><circle cx="1048.25" cy="848.05" r="2.45" fill="#73bf69"/><circle cx="1074.12" cy="848.05" r="2.45" fill="#73bf69"/><circle cx="1100.00" cy="848.05" r="2.45" fill="#73bf69"/><circle cx="1125.88" cy="848.05" r="2.45" fill="#73bf69"/><circle cx="1151.75" cy="848.05" r="2.45" fill="#73bf69"/><circle cx="1177.62" cy="848.05" r="2.45" fill="#73bf69"/><circle cx="1203.50" cy="848.05" r="2.45" fill="#73bf69"/><circle cx="1229.38" cy="848.05" r="2.45" fill="#73bf69"/><circle cx="1255.25" cy="848.05" r="2.45" fill="#73bf69"/><circle cx="1281.12" cy="848.05" r="2.45" fill="#73bf69"/><circle cx="1307.00" cy="848.05" r="2.45" fill="#73bf69"/><circle cx="1332.88" cy="848.05" r="2.45" fill="#73bf69"/><circle cx="1358.75" cy="848.05" r="2.45" fill="#73bf69"/><circle cx="1384.62" cy="848.05" r="2.45" fill="#73bf69"/><circle cx="1410.50" cy="848.05" r="2.45" fill="#73bf69"/><circle cx="1436.38" cy="848.05" r="2.45" fill="#73bf69"/><circle cx="1462.25" cy="848.05" r="2.45" fill="#73bf69"/><circle cx="1488.12" cy="848.05" r="2.45" fill="#73bf69"/><circle cx="1514.00" cy="848.05" r="2.45" fill="#73bf69"/><circle cx="1539.88" cy="848.05" r="2.45" fill="#73bf69"/><circle cx="1565.75" cy="848.05" r="2.45" fill="#73bf69"/><circle cx="1591.62" cy="848.05" r="2.45" fill="#73bf69"/><circle cx="1617.50" cy="848.05" r="2.45" fill="#73bf69"/><circle cx="1643.38" cy="847.00" r="2.45" fill="#73bf69"/><circle cx="1669.25" cy="847.00" r="2.45" fill="#73bf69"/><circle cx="1695.12" cy="847.00" r="2.45" fill="#73bf69"/><circle cx="1721.00" cy="847.00" r="2.45" fill="#73bf69"/><circle cx="1746.88" cy="827.92" r="2.45" fill="#73bf69"/><circle cx="1772.75" cy="847.00" r="2.45" fill="#73bf69"/><circle cx="1798.62" cy="847.00" r="2.45" fill="#73bf69"/><circle cx="1824.50" cy="847.00" r="2.45" fill="#73bf69"/><circle cx="1850.38" cy="847.00" r="2.45" fill="#73bf69"/><circle cx="1876.25" cy="847.00" r="2.45" fill="#73bf69"/><rect x="300.5" y="995.7" width="13.0" height="3.4" rx="1.2" fill="#73bf69"/><defs><linearGradient id="gl29" x1="0.2" y1="1" x2="0.1" y2="0"><stop offset="0" stop-color="#fcd20c"/><stop offset=".55" stop-color="#f89a1c"/><stop offset="1" stop-color="#ee5a2a"/></linearGradient></defs><polygon points="26.78,121.84 30.47,123.53 34.49,122.95 35.91,126.75 39.16,129.18 37.47,132.87 38.05,136.89 34.25,138.31 31.82,141.56 28.13,139.87 24.11,140.45 22.69,136.65 19.44,134.22 21.13,130.53 20.55,126.51 24.35,125.09" fill="url(#gl29)" stroke="url(#gl29)" stroke-width="1.92" stroke-linejoin="round"/><path d="M31.09 136.72 A4.80 4.80 0 1 1 34.19 134.74" fill="none" stroke="#181b1f" stroke-width="2.21" stroke-linecap="round"/><path d="M31.99 130.84 a1.92 1.92 0 1 0 -0.58 2.88" fill="none" stroke="#181b1f" stroke-width="1.63" stroke-linecap="round"/><path d="M20.200 162.7 H37.300" fill="none" stroke="#ccccdc" stroke-width="1.75" stroke-linecap="round" stroke-linejoin="round"/><path d="M20.200 167.7 H37.300" fill="none" stroke="#ccccdc" stroke-width="1.75" stroke-linecap="round" stroke-linejoin="round"/><path d="M20.200 172.7 H37.300" fill="none" stroke="#ccccdc" stroke-width="1.75" stroke-linecap="round" stroke-linejoin="round"/><path d="M99.60 164.90 l2.80 2.80 l-2.80 2.80" fill="none" stroke="#8e9099" stroke-width="1.10" stroke-linecap="round" stroke-linejoin="round"/><path d="M193.60 164.90 l2.80 2.80 l-2.80 2.80" fill="none" stroke="#8e9099" stroke-width="1.10" stroke-linecap="round" stroke-linejoin="round"/><polygon points="394.00,161.14 395.77,165.40 400.37,165.77 396.87,168.77 397.94,173.26 394.00,170.85 390.06,173.26 391.13,168.77 387.63,165.77 392.23,165.40" fill="none" stroke="#ccccdc" stroke-width="1.30" stroke-linejoin="round"/><circle cx="742" cy="130.700" r="4.800" fill="none" stroke="#a6a8b2" stroke-width="1.30" stroke-linecap="round" stroke-linejoin="round"/><path d="M745.600 134.300 l3 3" fill="none" stroke="#a6a8b2" stroke-width="1.30" stroke-linecap="round" stroke-linejoin="round"/><rect x="1143.800" y="126.800" width="12.400" height="8" rx="1.5" fill="none" stroke="#a6a8b2" stroke-width="1.00" stroke-linecap="round" stroke-linejoin="round"/><path d="M1146.300 129.500 h.1 m2.400 0 h.1 m2.400 0 h.1 m2.400 0 h.1 M1146.800 132.300 h6.400" fill="none" stroke="#a6a8b2" stroke-width="1.00" stroke-linecap="round" stroke-linejoin="round"/><path d="M1765 131 h10 M1770 126 v10" fill="none" stroke="#a6a8b2" stroke-width="1.40" stroke-linecap="round" stroke-linejoin="round"/><path d="M1783.40 130.20 l2.60 2.60 l2.60 -2.60" fill="none" stroke="#a6a8b2" stroke-width="1.30" stroke-linecap="round" stroke-linejoin="round"/><path d="M1805.700 121.700 V141.700" stroke="#34363c" stroke-width="1"/><circle cx="1825.700" cy="131.300" r="6.500" fill="none" stroke="#a6a8b2" stroke-width="1.25" stroke-linecap="round" stroke-linejoin="round"/><path d="M1823.700 129.600 a2 2 0 1 1 2.900 1.800 q-.9 .5-.9 1.500" fill="none" stroke="#a6a8b2" stroke-width="1.20" stroke-linecap="round" stroke-linejoin="round"/><circle cx="1825.700" cy="135" r=".8" fill="#a6a8b2"/><circle cx="1857" cy="136" r="1.400" fill="none" stroke="#a6a8b2" stroke-width="1.10" stroke-linecap="round" stroke-linejoin="round"/><path d="M1856.300 131.500 a5.300 5.300 0 0 1 5.300 5.300 M1856.300 128.700 a8.100 8.100 0 0 1 8.100 8.100 M1856.300 125.900 a10.900 10.900 0 0 1 10.900 10.900" fill="none" stroke="#a6a8b2" stroke-width="1.30" stroke-linecap="round" stroke-linejoin="round"/><defs><clipPath id="av"><circle cx="1895" cy="131.700" r="11"/></clipPath></defs><g clip-path="url(#av)"><rect x="1884" y="120" width="22" height="24" fill="#5a8a1e"/><rect x="1889" y="123.500" width="2.500" height="6" fill="#f4866a"/><rect x="1898.500" y="123.500" width="2.500" height="6" fill="#f4866a"/><rect x="1889" y="126" width="12" height="2.500" fill="#f4866a"/><rect x="1886" y="132" width="6" height="6" fill="#f4866a"/><rect x="1898" y="132" width="6" height="6" fill="#f4866a"/><rect x="1892" y="135" width="6" height="3" fill="#e8523a"/><rect x="1890" y="139" width="10" height="3" fill="#c8b830"/><rect x="1893" y="129" width="4" height="4" fill="#6aa82a"/></g><path d="M1396.200 162.300 h8 l3 3 v8 h-11z M1398.700 162.300 v3.500 h5 v-3.500 M1398.700 173.300 v-4 h6 v4" fill="none" stroke="#a6a8b2" stroke-width="1.25" stroke-linecap="round" stroke-linejoin="round"/><polygon points="1448.64,166.02 1448.64,168.98 1447.14,168.79 1446.55,170.22 1447.74,171.14 1445.64,173.24 1444.72,172.05 1443.29,172.64 1443.48,174.14 1440.52,174.14 1440.71,172.64 1439.28,172.05 1438.36,173.24 1436.26,171.14 1437.45,170.22 1436.86,168.79 1435.36,168.98 1435.36,166.02 1436.86,166.21 1437.45,164.78 1436.26,163.86 1438.36,161.76 1439.28,162.95 1440.71,162.36 1440.52,160.86 1443.48,160.86 1443.29,162.36 1444.72,162.95 1445.64,161.76 1447.74,163.86 1446.55,164.78 1447.14,166.21" fill="none" stroke="#a6a8b2" stroke-width="1.20" stroke-linecap="round" stroke-linejoin="round"/><circle cx="1442.00" cy="167.50" r="2.45" fill="none" stroke="#a6a8b2" stroke-width="1.20" stroke-linecap="round" stroke-linejoin="round"/><path d="M1499.40 166.70 l2.60 2.60 l2.60 -2.60" fill="none" stroke="#ccccdc" stroke-width="1.40" stroke-linecap="round" stroke-linejoin="round"/><path d="M1577.700 157 V178" stroke="#34363c" stroke-width="1"/><path d="M1870.700 157 V178" stroke="#34363c" stroke-width="1"/><circle cx="1601" cy="167.300" r="6.300" fill="none" stroke="#a6a8b2" stroke-width="1.25" stroke-linecap="round" stroke-linejoin="round"/><path d="M1601 163.500 v4 h-2.800" fill="none" stroke="#a6a8b2" stroke-width="1.25" stroke-linecap="round" stroke-linejoin="round"/><path d="M1725.70 166.50 l2.60 2.60 l2.60 -2.60" fill="none" stroke="#a6a8b2" stroke-width="1.30" stroke-linecap="round" stroke-linejoin="round"/><circle cx="1756.800" cy="166.300" r="5.300" fill="none" stroke="#a6a8b2" stroke-width="1.25" stroke-linecap="round" stroke-linejoin="round"/><path d="M1760.700 170.300 l3.300 3.300 M1754.300 166.300 h5" fill="none" stroke="#a6a8b2" stroke-width="1.25" stroke-linecap="round" stroke-linejoin="round"/><path d="M1792 164.500 a6 6 0 0 1 10.500-1.500 M1803.300 170.300 a6 6 0 0 1-10.500 1.500" fill="none" stroke="#a6a8b2" stroke-width="1.25" stroke-linecap="round" stroke-linejoin="round"/><path d="M1802.800 159.800 v3.500 h-3.500 M1792.500 175 v-3.500 h3.500" fill="none" stroke="#a6a8b2" stroke-width="1.25" stroke-linecap="round" stroke-linejoin="round"/><path d="M1844.70 166.50 l2.60 2.60 l2.60 -2.60" fill="none" stroke="#a6a8b2" stroke-width="1.30" stroke-linecap="round" stroke-linejoin="round"/><path d="M1889.50 171.20 l3.80 -3.80 l3.80 3.80" fill="none" stroke="#a6a8b2" stroke-width="1.60" stroke-linecap="round" stroke-linejoin="round"/><path d="M49.200 213 v-6.800 l5.500-4.700 l5.500 4.700 v6.800z M52.700 213 v-4.500 q2-1.800 4 0 v4.500" fill="none" stroke="#a6a8b2" stroke-width="1.20" stroke-linecap="round" stroke-linejoin="round"/><rect x="250.300" y="201.500" width="11.500" height="11.500" rx="1" fill="none" stroke="#ccccdc" stroke-width="1.30" stroke-linecap="round" stroke-linejoin="round"/><path d="M254 201.500 v11.500" fill="none" stroke="#ccccdc" stroke-width="1.30" stroke-linecap="round" stroke-linejoin="round"/><path d="M19.40 235.00 l2.60 2.60 l2.60 -2.60" fill="none" stroke="#c4c5d0" stroke-width="1.50" stroke-linecap="round" stroke-linejoin="round"/><polygon points="54.70,229.70 56.37,233.71 60.69,234.06 57.40,236.88 58.40,241.10 54.70,238.84 51.00,241.10 52.00,236.88 48.71,234.06 53.03,233.71" fill="none" stroke="#a6a8b2" stroke-width="1.20" stroke-linejoin="round"/><path d="M19.40 318.00 l2.60 2.60 l2.60 -2.60" fill="none" stroke="#c4c5d0" stroke-width="1.50" stroke-linecap="round" stroke-linejoin="round"/><rect x="48.4" y="312.7" width="5" height="5" rx=".6" fill="none" stroke="#e0e0ea" stroke-width="1.30" stroke-linecap="round" stroke-linejoin="round"/><rect x="48.4" y="320.0" width="5" height="5" rx=".6" fill="none" stroke="#e0e0ea" stroke-width="1.30" stroke-linecap="round" stroke-linejoin="round"/><rect x="55.7" y="312.7" width="5" height="5" rx=".6" fill="none" stroke="#e0e0ea" stroke-width="1.30" stroke-linecap="round" stroke-linejoin="round"/><rect x="55.7" y="320.0" width="5" height="5" rx=".6" fill="none" stroke="#e0e0ea" stroke-width="1.30" stroke-linecap="round" stroke-linejoin="round"/><circle cx="54.700" cy="462.700" r="6.300" fill="none" stroke="#dcdce6" stroke-width="1.30" stroke-linecap="round" stroke-linejoin="round"/><path d="M57.500 459.900 l-1.800 4.100 l-3.800 1.500 l1.800-4.100z" fill="none" stroke="#dcdce6" stroke-width="1.10" stroke-linecap="round" stroke-linejoin="round"/><path d="M19.40 490.50 l2.60 2.60 l2.60 -2.60" fill="none" stroke="#c4c5d0" stroke-width="1.50" stroke-linecap="round" stroke-linejoin="round"/><path d="M50.200 495 h9 q-1.500-1.200-1.500-3.500 v-2 a3 3 0 0 0-6 0 v2 q0 2.300-1.500 3.500z M53.500 497.300 h2.400" fill="none" stroke="#a6a8b2" stroke-width="1.20" stroke-linecap="round" stroke-linejoin="round"/><path d="M21.00 690.60 l2.60 2.60 l-2.60 2.60" fill="none" stroke="#c4c5d0" stroke-width="1.50" stroke-linecap="round" stroke-linejoin="round"/><circle cx="52.900" cy="691.500" r="4.700" fill="none" stroke="#a6a8b2" stroke-width="1.25" stroke-linecap="round" stroke-linejoin="round"/><circle cx="56.500" cy="695.300" r="4.700" fill="none" stroke="#a6a8b2" stroke-width="1.25" stroke-linecap="round" stroke-linejoin="round"/><path d="M53.600 694.400 l2.200-2.200" fill="none" stroke="#a6a8b2" stroke-width="1.10" stroke-linecap="round" stroke-linejoin="round"/><path d="M21.00 719.20 l2.60 2.60 l-2.60 2.60" fill="none" stroke="#c4c5d0" stroke-width="1.50" stroke-linecap="round" stroke-linejoin="round"/><polygon points="61.04,720.08 61.04,722.92 59.62,722.74 59.05,724.10 60.19,724.98 58.18,726.99 57.30,725.85 55.94,726.42 56.12,727.84 53.28,727.84 53.46,726.42 52.10,725.85 51.22,726.99 49.21,724.98 50.35,724.10 49.78,722.74 48.36,722.92 48.36,720.08 49.78,720.26 50.35,718.90 49.21,718.02 51.22,716.01 52.10,717.15 53.46,716.58 53.28,715.16 56.12,715.16 55.94,716.58 57.30,717.15 58.18,716.01 60.19,718.02 59.05,718.90 59.62,720.26" fill="none" stroke="#a6a8b2" stroke-width="1.20" stroke-linecap="round" stroke-linejoin="round"/><circle cx="54.70" cy="721.50" r="2.34" fill="none" stroke="#a6a8b2" stroke-width="1.20" stroke-linecap="round" stroke-linejoin="round"/></svg>
<span class="t" style="left:755.70px;top:122px;font-size:12.98px;line-height:19px;color:#9a9ca6;letter-spacing:0.276px;">Search or jump to...</span>
<span class="t" style="left:1161.00px;top:122px;font-size:11.12px;line-height:16px;color:#b4b6c0;letter-spacing:0.563px;">ctrl+k</span>
<span class="t" style="left:54.70px;top:158px;font-size:12.98px;line-height:19px;color:#ccccdc;letter-spacing:0.227px;-webkit-text-stroke:0.25px #ccccdc;">Home</span>
<span class="t" style="left:112.30px;top:158px;font-size:12.98px;line-height:19px;color:#ccccdc;letter-spacing:0.225px;-webkit-text-stroke:0.25px #ccccdc;">Dashboards</span>
<span class="t" style="left:206.70px;top:158px;font-size:12.98px;line-height:19px;color:#9ea0aa;letter-spacing:0.135px;">ALEC NB-IoT Sensor Demo</span>
<span class="t" style="left:1473.30px;top:159px;font-size:11.54px;line-height:16px;color:#ccccdc;font-weight:700;letter-spacing:-0.862px;">Add</span>
<span class="t" style="left:1532.30px;top:159px;font-size:11.54px;line-height:16px;color:#ffffff;font-weight:700;letter-spacing:-0.516px;">Share</span>
<span class="t" style="left:1617.00px;top:158px;font-size:12.98px;line-height:19px;color:#a9abb6;letter-spacing:0.191px;-webkit-text-stroke:0.30px #a9abb6;">Last 15 minutes</span>
<span class="t" style="left:1822.30px;top:158px;font-size:12.98px;line-height:19px;color:#a9abb6;letter-spacing:-0.007px;-webkit-text-stroke:0.30px #a9abb6;">5s</span>
<span class="t" style="left:79.50px;top:198px;font-size:12.98px;line-height:19px;color:#9fa1aa;letter-spacing:0.394px;">Home</span>
<span class="t" style="left:79.50px;top:227px;font-size:12.98px;line-height:19px;color:#9fa1aa;letter-spacing:0.373px;">Starred</span>
<span class="t" style="left:79.50px;top:338px;font-size:12.98px;line-height:19px;color:#9fa1aa;letter-spacing:0.238px;">Playlists</span>
<span class="t" style="left:79.50px;top:367px;font-size:12.98px;line-height:19px;color:#9fa1aa;letter-spacing:0.246px;">Snapshots</span>
<span class="t" style="left:79.50px;top:396px;font-size:12.98px;line-height:19px;color:#9fa1aa;letter-spacing:0.352px;">Library panels</span>
<span class="t" style="left:79.50px;top:424px;font-size:12.98px;line-height:19px;color:#9fa1aa;letter-spacing:0.339px;">Public dashboards</span>
<span class="t" style="left:79.50px;top:482px;font-size:12.98px;line-height:19px;color:#9fa1aa;letter-spacing:0.499px;">Alerting</span>
<span class="t" style="left:79.50px;top:511px;font-size:12.98px;line-height:19px;color:#9fa1aa;letter-spacing:0.368px;">Alert rules</span>
<span class="t" style="left:79.50px;top:540px;font-size:12.98px;line-height:19px;color:#9fa1aa;letter-spacing:0.426px;">Contact points</span>
<span class="t" style="left:79.50px;top:568px;font-size:12.98px;line-height:19px;color:#9fa1aa;letter-spacing:0.461px;">Notification policies</span>
<span class="t" style="left:79.50px;top:597px;font-size:12.98px;line-height:19px;color:#9fa1aa;letter-spacing:0.235px;">Silences</span>
<span class="t" style="left:79.50px;top:626px;font-size:12.98px;line-height:19px;color:#9fa1aa;letter-spacing:0.248px;">Groups</span>
<span class="t" style="left:79.50px;top:655px;font-size:12.98px;line-height:19px;color:#9fa1aa;letter-spacing:0.328px;">Admin</span>
<span class="t" style="left:79.50px;top:684px;font-size:12.98px;line-height:19px;color:#9fa1aa;letter-spacing:0.415px;">Connections</span>
<span class="t" style="left:79.50px;top:712px;font-size:12.98px;line-height:19px;color:#9fa1aa;letter-spacing:0.359px;">Administration</span>
<span class="t" style="left:79.50px;top:309px;font-size:12.98px;line-height:19px;color:#e6e6ee;letter-spacing:0.336px;-webkit-text-stroke:0.25px #e6e6ee;">Dashboards</span>
<span class="t" style="left:79.50px;top:453px;font-size:12.98px;line-height:19px;color:#dcdce6;letter-spacing:0.249px;text-decoration:underline;text-underline-offset:2px;">Explore</span>
<span class="t" style="left:62.70px;top:258px;font-size:12.98px;line-height:19px;color:#9fa1aa;font-style:italic;letter-spacing:0.380px;">Your starred dashboards will</span>
<span class="t" style="left:62.70px;top:278px;font-size:12.98px;line-height:19px;color:#9fa1aa;font-style:italic;letter-spacing:0.301px;">appear here</span>
<span class="t" style="left:297.50px;top:206px;font-size:12.98px;line-height:19px;color:#d5d6e2;letter-spacing:0.334px;-webkit-text-stroke:0.35px #d5d6e2;">Compression Ratio Over Time</span>
<span class="t" style="left:1107.50px;top:206px;font-size:12.98px;line-height:19px;color:#d5d6e2;letter-spacing:0.370px;-webkit-text-stroke:0.35px #d5d6e2;">Raw vs Compressed Bytes per Message</span>
<span class="t" style="left:297.50px;top:480px;font-size:12.98px;line-height:19px;color:#d5d6e2;letter-spacing:0.441px;-webkit-text-stroke:0.35px #d5d6e2;">Temperature / Humidity / Pressure</span>
<span class="t" style="left:1377.50px;top:480px;font-size:12.98px;line-height:19px;color:#d5d6e2;letter-spacing:0.425px;-webkit-text-stroke:0.35px #d5d6e2;">Message Count</span>
<span class="t" style="left:297.50px;top:753px;font-size:12.98px;line-height:19px;color:#d5d6e2;letter-spacing:0.319px;-webkit-text-stroke:0.35px #d5d6e2;">Savings vs JSON (%)</span>
<span class="t" style="left:310.81px;top:410px;font-size:11.12px;line-height:16px;color:#c4c5d2;-webkit-text-stroke:0.20px #c4c5d2;">0</span>
<span class="t" style="left:300.86px;top:359px;font-size:11.12px;line-height:16px;color:#c4c5d2;letter-spacing:0.338px;-webkit-text-stroke:0.20px #c4c5d2;">0.5</span>
<span class="t" style="left:310.81px;top:308px;font-size:11.12px;line-height:16px;color:#c4c5d2;-webkit-text-stroke:0.20px #c4c5d2;">1</span>
<span class="t" style="left:300.86px;top:256px;font-size:11.12px;line-height:16px;color:#c4c5d2;letter-spacing:0.338px;-webkit-text-stroke:0.20px #c4c5d2;">1.5</span>
<div class="b" style="left:289px;top:420px;width:795px;height:24px;overflow:hidden;">
<span class="t" style="left:265.05px;top:4px;font-size:11.12px;line-height:16px;color:#c4c5d2;letter-spacing:0.166px;-webkit-text-stroke:0.20px #c4c5d2;">10:20</span>
<span class="t" style="left:516.95px;top:4px;font-size:11.12px;line-height:16px;color:#c4c5d2;letter-spacing:0.166px;-webkit-text-stroke:0.20px #c4c5d2;">10:25</span>
<span class="t" style="left:768.15px;top:4px;font-size:11.12px;line-height:16px;color:#c4c5d2;letter-spacing:0.166px;-webkit-text-stroke:0.20px #c4c5d2;">10:30</span>
</div>
<span class="t" style="left:320.50px;top:441px;font-size:11.12px;line-height:16px;color:#c4c5d2;letter-spacing:0.393px;-webkit-text-stroke:0.20px #c4c5d2;">ratio (raw/compressed)</span>
<span class="t" style="left:1117.57px;top:410px;font-size:11.12px;line-height:16px;color:#c4c5d2;letter-spacing:0.365px;-webkit-text-stroke:0.20px #c4c5d2;">0 B</span>
<span class="t" style="left:1117.57px;top:370px;font-size:11.12px;line-height:16px;color:#c4c5d2;letter-spacing:0.365px;-webkit-text-stroke:0.20px #c4c5d2;">5 B</span>
<span class="t" style="left:1111.12px;top:331px;font-size:11.12px;line-height:16px;color:#c4c5d2;letter-spacing:0.333px;-webkit-text-stroke:0.20px #c4c5d2;">10 B</span>
<span class="t" style="left:1111.12px;top:291px;font-size:11.12px;line-height:16px;color:#c4c5d2;letter-spacing:0.333px;-webkit-text-stroke:0.20px #c4c5d2;">15 B</span>
<span class="t" style="left:1111.12px;top:251px;font-size:11.12px;line-height:16px;color:#c4c5d2;letter-spacing:0.333px;-webkit-text-stroke:0.20px #c4c5d2;">20 B</span>
<div class="b" style="left:1099px;top:420px;width:795px;height:24px;overflow:hidden;">
<span class="t" style="left:270.25px;top:4px;font-size:11.12px;line-height:16px;color:#c4c5d2;letter-spacing:0.166px;-webkit-text-stroke:0.20px #c4c5d2;">10:20</span>
<span class="t" style="left:519.25px;top:4px;font-size:11.12px;line-height:16px;color:#c4c5d2;letter-spacing:0.166px;-webkit-text-stroke:0.20px #c4c5d2;">10:25</span>
<span class="t" style="left:768.25px;top:4px;font-size:11.12px;line-height:16px;color:#c4c5d2;letter-spacing:0.166px;-webkit-text-stroke:0.20px #c4c5d2;">10:30</span>
</div>
<span class="t" style="left:1131.00px;top:441px;font-size:11.12px;line-height:16px;color:#c4c5d2;letter-spacing:0.196px;-webkit-text-stroke:0.20px #c4c5d2;">Raw bytes</span>
<span class="t" style="left:1213.60px;top:441px;font-size:11.12px;line-height:16px;color:#c4c5d2;letter-spacing:0.317px;-webkit-text-stroke:0.20px #c4c5d2;">Compressed bytes</span>
<span class="t" style="left:330.43px;top:670px;font-size:11.12px;line-height:16px;color:#c4c5d2;letter-spacing:0.305px;-webkit-text-stroke:0.20px #c4c5d2;">24 °C</span>
<span class="t" style="left:301.38px;top:636px;font-size:11.12px;line-height:16px;color:#c4c5d2;letter-spacing:0.271px;-webkit-text-stroke:0.20px #c4c5d2;">24.0025 °C</span>
<span class="t" style="left:307.84px;top:603px;font-size:11.12px;line-height:16px;color:#c4c5d2;letter-spacing:0.271px;-webkit-text-stroke:0.20px #c4c5d2;">24.005 °C</span>
<span class="t" style="left:301.38px;top:570px;font-size:11.12px;line-height:16px;color:#c4c5d2;letter-spacing:0.271px;-webkit-text-stroke:0.20px #c4c5d2;">24.0075 °C</span>
<span class="t" style="left:314.29px;top:536px;font-size:11.12px;line-height:16px;color:#c4c5d2;letter-spacing:0.271px;-webkit-text-stroke:0.20px #c4c5d2;">24.01 °C</span>
<span class="t" style="left:1215.90px;top:514px;font-size:11.12px;line-height:16px;color:#c4c5d2;letter-spacing:0.495px;-webkit-text-stroke:0.20px #c4c5d2;">60.675 %H</span>
<span class="t" style="left:1215.90px;top:541px;font-size:11.12px;line-height:16px;color:#c4c5d2;letter-spacing:0.521px;-webkit-text-stroke:0.20px #c4c5d2;">60.65 %H</span>
<span class="t" style="left:1215.90px;top:569px;font-size:11.12px;line-height:16px;color:#c4c5d2;letter-spacing:0.520px;-webkit-text-stroke:0.20px #c4c5d2;">60.625 %H</span>
<span class="t" style="left:1215.90px;top:596px;font-size:11.12px;line-height:16px;color:#c4c5d2;letter-spacing:0.522px;-webkit-text-stroke:0.20px #c4c5d2;">60.6 %H</span>
<span class="t" style="left:1215.90px;top:624px;font-size:11.12px;line-height:16px;color:#c4c5d2;letter-spacing:0.495px;-webkit-text-stroke:0.20px #c4c5d2;">60.575 %H</span>
<span class="t" style="left:1215.90px;top:650px;font-size:11.12px;line-height:16px;color:#c4c5d2;letter-spacing:0.521px;-webkit-text-stroke:0.20px #c4c5d2;">60.55 %H</span>
<span class="t" style="left:1215.90px;top:677px;font-size:11.12px;line-height:16px;color:#c4c5d2;letter-spacing:0.520px;-webkit-text-stroke:0.20px #c4c5d2;">60.525 %H</span>
<span class="t" style="left:1282.00px;top:532px;font-size:11.12px;line-height:16px;color:#c4c5d2;letter-spacing:-0.047px;-webkit-text-stroke:0.20px #c4c5d2;">101.065 kPa</span>
<span class="t" style="left:1282.00px;top:561px;font-size:11.12px;line-height:16px;color:#c4c5d2;letter-spacing:-0.005px;-webkit-text-stroke:0.20px #c4c5d2;">101.0625 kPa</span>
<span class="t" style="left:1282.00px;top:590px;font-size:11.12px;line-height:16px;color:#c4c5d2;letter-spacing:-0.176px;-webkit-text-stroke:0.20px #c4c5d2;">101.06 kPa</span>
<span class="t" style="left:1282.00px;top:620px;font-size:11.12px;line-height:16px;color:#c4c5d2;letter-spacing:-0.041px;-webkit-text-stroke:0.20px #c4c5d2;">101.0575 kPa</span>
<span class="t" style="left:1282.00px;top:649px;font-size:11.12px;line-height:16px;color:#c4c5d2;letter-spacing:-0.087px;-webkit-text-stroke:0.20px #c4c5d2;">101.055 kPa</span>
<span class="t" style="left:1282.00px;top:677px;font-size:11.12px;line-height:16px;color:#c4c5d2;letter-spacing:-0.005px;-webkit-text-stroke:0.20px #c4c5d2;">101.0525 kPa</span>
<span class="t" style="left:626.85px;top:698px;font-size:11.12px;line-height:16px;color:#c4c5d2;letter-spacing:0.166px;-webkit-text-stroke:0.20px #c4c5d2;">10:20</span>
<span class="t" style="left:909.65px;top:698px;font-size:11.12px;line-height:16px;color:#c4c5d2;letter-spacing:0.166px;-webkit-text-stroke:0.20px #c4c5d2;">10:25</span>
<span class="t" style="left:1192.45px;top:698px;font-size:11.12px;line-height:16px;color:#c4c5d2;letter-spacing:0.166px;-webkit-text-stroke:0.20px #c4c5d2;">10:30</span>
<span class="t" style="left:321.00px;top:715px;font-size:11.12px;line-height:16px;color:#c4c5d2;letter-spacing:0.305px;-webkit-text-stroke:0.20px #c4c5d2;">Temperature (°C)</span>
<span class="t" style="left:1156.60px;top:715px;font-size:11.12px;line-height:16px;color:#c4c5d2;letter-spacing:0.252px;-webkit-text-stroke:0.20px #c4c5d2;">Humidity (%RH)</span>
<span class="t" style="left:1268.90px;top:715px;font-size:11.12px;line-height:16px;color:#c4c5d2;letter-spacing:0.140px;-webkit-text-stroke:0.20px #c4c5d2;">Pressure (kPa)</span>
<span class="t" style="left:1526.30px;top:542px;font-size:131.50px;line-height:160px;color:#1f2227;-webkit-text-stroke:2.00px #1f2227;letter-spacing:1.3px;transform:scaleX(1.10);transform-origin:50% 50%;">306</span>
<span class="t" style="left:312.02px;top:957px;font-size:11.12px;line-height:16px;color:#c4c5d2;letter-spacing:0.702px;-webkit-text-stroke:0.20px #c4c5d2;">0%</span>
<span class="t" style="left:305.56px;top:922px;font-size:11.12px;line-height:16px;color:#c4c5d2;letter-spacing:0.486px;-webkit-text-stroke:0.20px #c4c5d2;">20%</span>
<span class="t" style="left:305.56px;top:887px;font-size:11.12px;line-height:16px;color:#c4c5d2;letter-spacing:0.486px;-webkit-text-stroke:0.20px #c4c5d2;">40%</span>
<span class="t" style="left:305.56px;top:852px;font-size:11.12px;line-height:16px;color:#c4c5d2;letter-spacing:0.486px;-webkit-text-stroke:0.20px #c4c5d2;">60%</span>
<span class="t" style="left:305.56px;top:817px;font-size:11.12px;line-height:16px;color:#c4c5d2;letter-spacing:0.486px;-webkit-text-stroke:0.20px #c4c5d2;">80%</span>
<span class="t" style="left:299.11px;top:782px;font-size:11.12px;line-height:16px;color:#c4c5d2;letter-spacing:0.414px;-webkit-text-stroke:0.20px #c4c5d2;">100%</span>
<div class="b" style="left:289px;top:967px;width:1605px;height:24px;overflow:hidden;">
<span class="t" style="left:115.75px;top:4px;font-size:11.12px;line-height:16px;color:#c4c5d2;letter-spacing:0.314px;-webkit-text-stroke:0.20px #c4c5d2;">10:16:00</span>
<span class="t" style="left:219.25px;top:4px;font-size:11.12px;line-height:16px;color:#c4c5d2;letter-spacing:0.314px;-webkit-text-stroke:0.20px #c4c5d2;">10:17:00</span>
<span class="t" style="left:322.75px;top:4px;font-size:11.12px;line-height:16px;color:#c4c5d2;letter-spacing:0.314px;-webkit-text-stroke:0.20px #c4c5d2;">10:18:00</span>
<span class="t" style="left:426.25px;top:4px;font-size:11.12px;line-height:16px;color:#c4c5d2;letter-spacing:0.314px;-webkit-text-stroke:0.20px #c4c5d2;">10:19:00</span>
<span class="t" style="left:529.75px;top:4px;font-size:11.12px;line-height:16px;color:#c4c5d2;letter-spacing:0.314px;-webkit-text-stroke:0.20px #c4c5d2;">10:20:00</span>
<span class="t" style="left:633.25px;top:4px;font-size:11.12px;line-height:16px;color:#c4c5d2;letter-spacing:0.314px;-webkit-text-stroke:0.20px #c4c5d2;">10:21:00</span>
<span class="t" style="left:736.75px;top:4px;font-size:11.12px;line-height:16px;color:#c4c5d2;letter-spacing:0.314px;-webkit-text-stroke:0.20px #c4c5d2;">10:22:00</span>
<span class="t" style="left:840.25px;top:4px;font-size:11.12px;line-height:16px;color:#c4c5d2;letter-spacing:0.314px;-webkit-text-stroke:0.20px #c4c5d2;">10:23:00</span>
<span class="t" style="left:943.75px;top:4px;font-size:11.12px;line-height:16px;color:#c4c5d2;letter-spacing:0.314px;-webkit-text-stroke:0.20px #c4c5d2;">10:24:00</span>
<span class="t" style="left:1047.25px;top:4px;font-size:11.12px;line-height:16px;color:#c4c5d2;letter-spacing:0.314px;-webkit-text-stroke:0.20px #c4c5d2;">10:25:00</span>
<span class="t" style="left:1150.75px;top:4px;font-size:11.12px;line-height:16px;color:#c4c5d2;letter-spacing:0.314px;-webkit-text-stroke:0.20px #c4c5d2;">10:26:00</span>
<span class="t" style="left:1254.25px;top:4px;font-size:11.12px;line-height:16px;color:#c4c5d2;letter-spacing:0.314px;-webkit-text-stroke:0.20px #c4c5d2;">10:27:00</span>
<span class="t" style="left:1357.75px;top:4px;font-size:11.12px;line-height:16px;color:#c4c5d2;letter-spacing:0.314px;-webkit-text-stroke:0.20px #c4c5d2;">10:28:00</span>
<span class="t" style="left:1461.25px;top:4px;font-size:11.12px;line-height:16px;color:#c4c5d2;letter-spacing:0.314px;-webkit-text-stroke:0.20px #c4c5d2;">10:29:00</span>
<span class="t" style="left:1564.75px;top:4px;font-size:11.12px;line-height:16px;color:#c4c5d2;letter-spacing:0.314px;-webkit-text-stroke:0.20px #c4c5d2;">10:30:00</span>
</div>
<span class="t" style="left:320.50px;top:988px;font-size:11.12px;line-height:16px;color:#c4c5d2;letter-spacing:0.226px;-webkit-text-stroke:0.20px #c4c5d2;">Savings vs JSON (%)</span>
<svg class="g" viewBox="0 0 1920 1032"></svg>
<div class="b" style="left:4.00px;top:1004.00px;width:151.00px;height:24.30px;background:#dcdcdc;border-top:1px solid #e6e6e6;border-right:1px solid #cfcfcf;border-radius:3px 4px 0 6px;"></div>
<span class="t" style="left:9.00px;top:1007px;font-size:13.20px;line-height:19px;color:#2a2a2a;letter-spacing:0.377px;">localhost:3000/explore</span>
</body></html>
